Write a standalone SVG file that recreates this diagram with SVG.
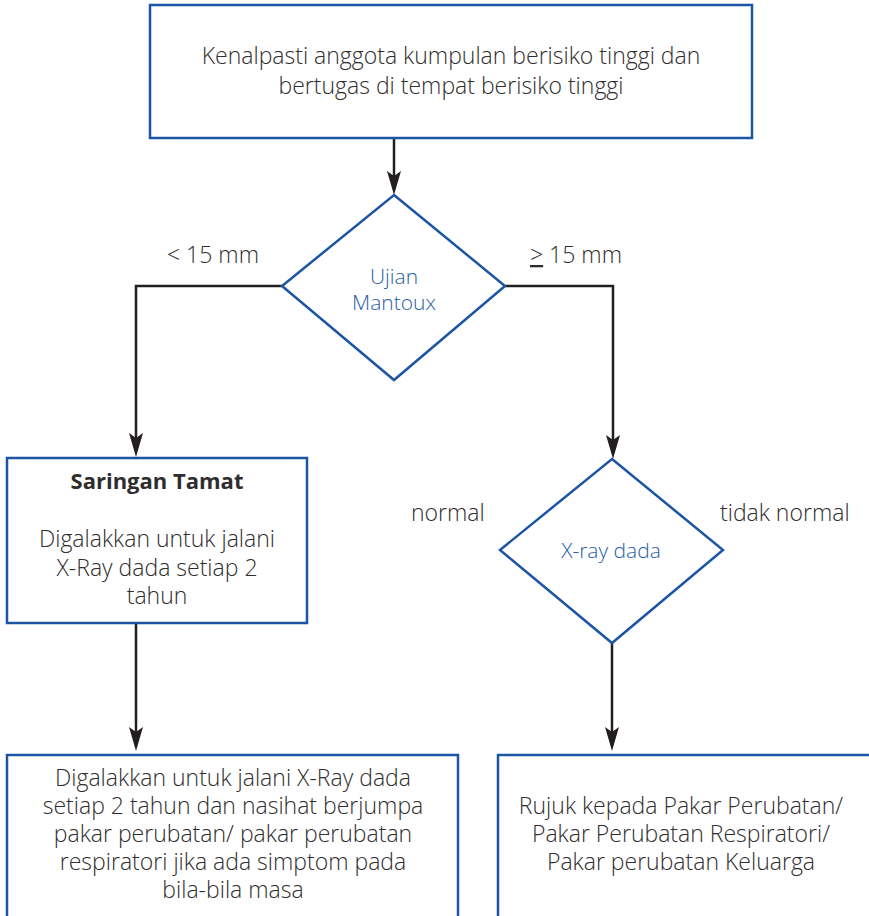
<svg xmlns="http://www.w3.org/2000/svg" width="869" height="916" viewBox="0 0 869 916">
  <defs>
    <marker id="arrow" viewBox="0 0 24 14" refX="18" refY="7" markerWidth="24" markerHeight="14" markerUnits="userSpaceOnUse" orient="auto">
      <path d="M0,0 L24,7 L0,14 L5,7 Z" fill="#231f20"/>
    </marker>
    <style>
      .box { fill: #ffffff; stroke: #1d55a5; stroke-width: 2.5; }
      .link { fill: none; stroke: #231f20; stroke-width: 2.5; marker-end: url(#arrow); }
      text { font-family: "Open Sans", "Noto Sans", "Liberation Sans", sans-serif; font-size: 23px; fill: #2f2d2e; font-weight: 300; }
      .c { text-anchor: middle; }
      .blue { fill: #2a5ea8; font-size: 21px; }
      .bold { font-weight: 700; font-size: 22px; }
    </style>
  </defs>

  <rect width="869" height="916" fill="#ffffff"/>

  <!-- connectors -->
  <g id="connectors">
    <path class="link" d="M394,138 V189"/>
    <path class="link" d="M282,286 H136 V451"/>
    <path class="link" d="M504,286 H613 V453"/>
    <path class="link" d="M136,623 V745"/>
    <path class="link" d="M612,643 V745"/>
    <text x="167" y="263">&lt; 15 mm</text>
    <text x="530" y="263"><tspan text-decoration="underline">&gt;</tspan> 15 mm</text>
    <text x="411" y="521">normal</text>
    <text x="720" y="521">tidak normal</text>
  </g>

  <!-- start: identify high-risk staff -->
  <g id="node-start">
    <rect class="box" x="150" y="5" width="602" height="133"/>
    <text class="c" x="451" y="64">Kenalpasti anggota kumpulan berisiko tinggi dan</text>
    <text class="c" x="451" y="94">bertugas di tempat  berisiko tinggi</text>
  </g>

  <!-- decision: Mantoux test -->
  <g id="node-mantoux">
    <polygon class="box" points="394,195 505,286 394,380 282,286"/>
    <text class="c blue" x="394" y="284">Ujian</text>
    <text class="c blue" x="394" y="310">Mantoux</text>
  </g>

  <!-- final screening -->
  <g id="node-saringan">
    <rect class="box" x="7" y="458" width="300" height="165"/>
    <text class="c bold" x="157" y="489">Saringan Tamat</text>
    <text class="c" x="157" y="547">Digalakkan untuk jalani</text>
    <text class="c" x="157" y="576">X-Ray dada setiap 2</text>
    <text class="c" x="157" y="604">tahun</text>
  </g>

  <!-- decision: chest X-ray -->
  <g id="node-xray">
    <polygon class="box" points="612,459 723,550 612,643 500,550"/>
    <text class="c blue" x="611" y="558">X-ray dada</text>
  </g>

  <!-- outcome: normal -->
  <g id="node-advice">
    <rect class="box" x="7" y="755" width="451" height="200"/>
    <text class="c" x="233" y="786">Digalakkan untuk jalani X-Ray dada</text>
    <text class="c" x="233" y="814">setiap 2 tahun dan nasihat berjumpa</text>
    <text class="c" x="233" y="842">pakar perubatan/ pakar perubatan</text>
    <text class="c" x="233" y="870">respiratori jika ada simptom pada</text>
    <text class="c" x="233" y="898">bila-bila masa</text>
  </g>

  <!-- outcome: abnormal -->
  <g id="node-refer">
    <rect class="box" x="498" y="755" width="420" height="200"/>
    <text class="c" x="681" y="814">Rujuk kepada Pakar Perubatan/</text>
    <text class="c" x="681" y="842">Pakar Perubatan Respiratori/</text>
    <text class="c" x="681" y="870">Pakar perubatan Keluarga</text>
  </g>
</svg>
